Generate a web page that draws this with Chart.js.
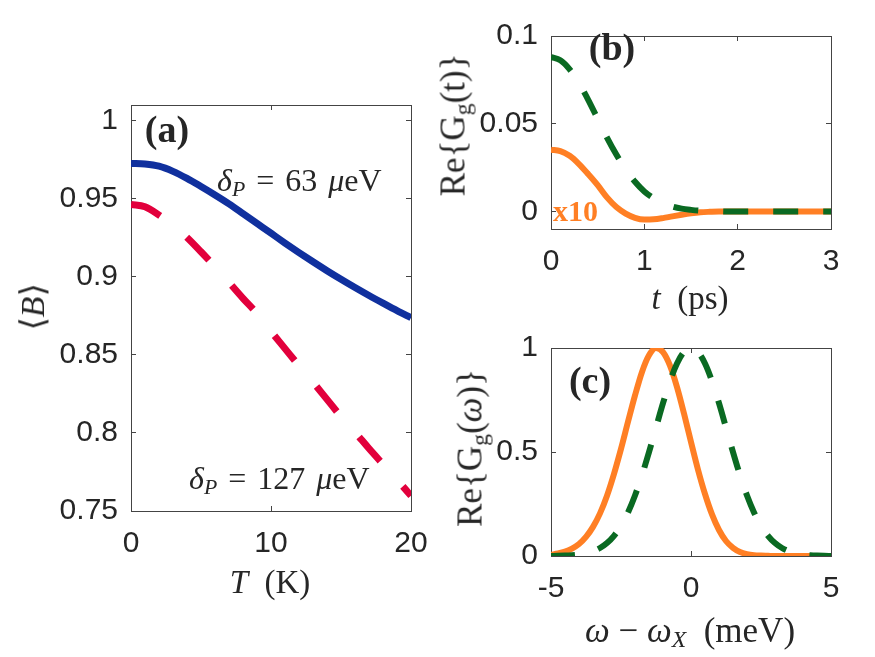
<!DOCTYPE html>
<html>
<head>
<meta charset="utf-8">
<script src="https://cdn.jsdelivr.net/npm/chart.js@4.4.1/dist/chart.umd.min.js"></script>
<style>
  body { margin: 0; background: #fff; }
  #wrap { position: relative; width: 875px; height: 657px; background: #fff; overflow: hidden; }
  #wrap canvas { position: absolute; left: 0; top: 0; }
  .t { position: absolute; font-family: "Liberation Serif", "Times New Roman", serif; color: #262626;
       white-space: nowrap; line-height: 1; transform: translate(-50%, -50%); }
  .l { transform: translate(0, -50%); }
  .rot { transform: translate(-50%, -50%) rotate(-90deg); }
  .bold { font-weight: bold; }
  .ann { word-spacing: 3px; }
  i { font-style: italic; }
  sub { font-size: 68%; vertical-align: -0.25em; line-height: 0; }
</style>
</head>
<body>
<div id="wrap">
  <canvas id="chartA" width="875" height="657"></canvas>
  <canvas id="chartB" width="875" height="657"></canvas>
  <canvas id="chartC" width="875" height="657"></canvas>

  <div class="t rot" style="left:33px; top:307px; font-size:34px;">⟨<i>B</i>⟩</div>
  <div class="t" style="left:270px; top:582px; font-size:33px;"><i>T</i>&nbsp;&nbsp;(K)</div>
  <div class="t bold" style="left:167px; top:129px; font-size:38px;">(a)</div>
  <div class="t l ann" style="left:217px; top:180px; font-size:32px;"><i>δ</i><sub><i>P</i></sub> = 63 <i>μ</i>eV</div>
  <div class="t l ann" style="left:189px; top:478px; font-size:32px;"><i>δ</i><sub><i>P</i></sub> = 127 <i>μ</i>eV</div>

  <div class="t bold" style="left:612px; top:47px; font-size:38px;">(b)</div>
  <div class="t rot" style="left:453px; top:125px; font-size:35px;">Re{G<sub>g</sub>(t)}</div>
  <div class="t" style="left:690px; top:298px; font-size:33px;"><i>t</i>&nbsp;&nbsp;(ps)</div>
  <div class="t l bold" style="left:553px; top:211px; font-size:30px; color:#ff7f24;">x10</div>

  <div class="t bold" style="left:590px; top:380px; font-size:38px;">(c)</div>
  <div class="t rot" style="left:470px; top:448px; font-size:35px;">Re{G<sub>g</sub>(<i>ω</i>)}</div>
  <div class="t" style="left:690px; top:630px; font-size:35px;"><i>ω</i> − <i>ω</i><sub><i>X</i></sub>&nbsp;&nbsp;(meV)</div>
</div>

<script>
// panel (a): <B> against temperature
const tempK = [0, 1, 2, 3, 4, 5, 6, 7, 8, 9, 10, 11, 12, 13, 14, 15, 16, 17, 18, 19, 20];
const bDelta63 = [0.9726, 0.9722, 0.9708, 0.9675, 0.9630, 0.9578, 0.9524, 0.9467, 0.9405, 0.9342, 0.9279,
                  0.9216, 0.9155, 0.9096, 0.9039, 0.8984, 0.8931, 0.8880, 0.8831, 0.8783, 0.8738];
const bDelta127 = [0.9463, 0.9448, 0.9395, 0.9330, 0.9252, 0.9160, 0.9064, 0.8964, 0.8862, 0.8765, 0.8650,
                   0.8540, 0.8430, 0.8325, 0.8215, 0.8105, 0.8005, 0.7900, 0.7800, 0.7700, 0.7598];
const aXTicks = [0, 10, 20];
const aXLabels = ['0', '10', '20'];
const aYTicks = [0.75, 0.8, 0.85, 0.9, 0.95, 1];
const aYLabels = ['0.75', '0.8', '0.85', '0.9', '0.95', '1'];

// panel (b): Re{Gg(t)}
const timePs = [0, 0.1, 0.2, 0.3, 0.4, 0.5, 0.6, 0.7, 0.8, 0.9, 1.0, 1.1, 1.2, 1.3, 1.4, 1.5,
                1.6, 1.7, 1.8, 1.9, 2.0, 2.1, 2.2, 2.3, 2.4, 2.5, 2.6, 2.7, 2.8, 2.9, 3.0];
const gtGreen = [0.0880, 0.0862, 0.0810, 0.0731, 0.0635, 0.0528, 0.0421, 0.0324, 0.0239, 0.0169, 0.0114,
                 0.0075, 0.0047, 0.0028, 0.0016, 0.0009, 0.0004, 0.0002, 0.0001, 0, 0,
                 0, 0, 0, 0, 0, 0, 0, 0, 0, 0];
const gtOrange = [0.0352, 0.0344, 0.0317, 0.0270, 0.0212, 0.0150, 0.0080, 0.0025, -0.0012, -0.0036, -0.0046,
                  -0.0045, -0.0038, -0.0028, -0.0019, -0.0011, -0.0005, -0.0002, 0, 0, 0,
                  0, 0, 0, 0, 0, 0, 0, 0, 0, 0];
const bXTicks = [0, 1, 2, 3];
const bXLabels = ['0', '1', '2', '3'];
const bYTicks = [0, 0.05, 0.1];
const bYLabels = ['0', '0.05', '0.1'];

// panel (c): Re{Gg(w)}
const omegaMeV = [-5, -4.75, -4.5, -4.25, -4, -3.75, -3.5, -3.25, -3, -2.75, -2.5, -2.25, -2, -1.75, -1.5, -1.25,
                  -1, -0.75, -0.5, -0.25, 0, 0.25, 0.5, 0.75, 1, 1.25, 1.5, 1.75, 2, 2.25, 2.5, 2.75,
                  3, 3.25, 3.5, 3.75, 4, 4.25, 4.5, 4.75, 5];
const gwOrange = [0.006, 0.012, 0.021, 0.036, 0.058, 0.092, 0.140, 0.205, 0.290, 0.395, 0.515, 0.645, 0.772, 0.885, 0.965, 1.000,
                  0.980, 0.915, 0.812, 0.685, 0.548, 0.415, 0.298, 0.200, 0.125, 0.072, 0.039, 0.019, 0.009, 0.004, 0.002, 0.001,
                  0, 0, 0, 0, 0, 0, 0, 0, 0];
const gwGreen = [0.0004, 0.0009, 0.0019, 0.0038, 0.0072, 0.013, 0.0228, 0.0384, 0.0622, 0.0969, 0.1453, 0.2096, 0.291, 0.3886, 0.4994, 0.6174,
                 0.7345, 0.8406, 0.9257, 0.981, 1, 0.981, 0.9257, 0.8406, 0.7345, 0.6174, 0.4994, 0.3886, 0.291, 0.2096, 0.1453, 0.0969,
                 0.0622, 0.0384, 0.0228, 0.013, 0.0072, 0.0038, 0.0019, 0.0009, 0.0004];
const cXTicks = [-5, 0, 5];
const cXLabels = ['-5', '0', '5'];
const cYTicks = [0, 0.5, 1];
const cYLabels = ['0', '0.5', '1'];

const axisColor = '#444444';
const labelColor = '#262626';
const tickFont = { family: '"Liberation Sans", Arial, sans-serif', size: 30 };

function pts (xs, ys) {
    return xs.map((x, i) => ({ x: x, y: ys[i] }));
}

function oneAxis (pos, min, max, ticks, labels, size, showLabels) {
    const horiz = pos === 'top' || pos === 'bottom';
    return {
        type: 'linear',
        position: pos,
        min: min,
        max: max,
        afterBuildTicks: s => { s.ticks = ticks.map(v => ({ value: v })); },
        afterFit: s => { if (horiz) { s.height = size; } else { s.width = size; } },
        ticks: {
            display: showLabels,
            font: tickFont,
            color: labelColor,
            padding: horiz ? 20 : 18,
            maxRotation: 0,
            autoSkip: false,
            callback: (v, i) => labels[i]
        },
        grid: { drawOnChartArea: false, tickLength: -5, color: axisColor, lineWidth: 1 },
        border: { display: true, color: axisColor, width: 1 }
    };
}

// area = [left, top, right, bottom] of the plotting box in page pixels
function makePanel (id, area, xr, xt, xl, yr, yt, yl, datasets) {
    const W = 875, H = 657, yW = 120, xH = 90;
    return new Chart(document.getElementById(id), {
        type: 'line',
        data: { datasets: datasets },
        options: {
            responsive: false,
            animation: false,
            devicePixelRatio: 1,
            layout: { padding: { left: area[0] - yW, top: area[1], right: W - area[2], bottom: H - area[3] - xH } },
            plugins: { legend: { display: false }, tooltip: { enabled: false } },
            elements: { point: { radius: 0 } },
            scales: {
                x: oneAxis('bottom', xr[0], xr[1], xt, xl, xH, true),
                x2: oneAxis('top', xr[0], xr[1], xt, xl, 0, false),
                y: oneAxis('left', yr[0], yr[1], yt, yl, yW, true),
                y2: oneAxis('right', yr[0], yr[1], yt, yl, 0, false)
            }
        }
    });
}

function line (data, color, width, dash) {
    return {
        data: data,
        borderColor: color,
        borderWidth: width,
        borderDash: dash || [],
        borderCapStyle: 'butt',
        cubicInterpolationMode: 'monotone',
        fill: false,
        xAxisID: 'x',
        yAxisID: 'y'
    };
}

const blue = '#10309e', red = '#e2003c', green = '#0a6a22', orange = '#ff7f24';

makePanel('chartA', [131, 105, 411, 511], [0, 20], aXTicks, aXLabels, [0.75, 1.01], aYTicks, aYLabels, [
    line(pts(tempK, bDelta63), blue, 7),
    line(pts(tempK, bDelta127), red, 7, [32, 34])
]);

makePanel('chartB', [551, 19, 831, 229], [0, 3], bXTicks, bXLabels, [-0.01, 0.1], bYTicks, bYLabels, [
    line(pts(timePs, gtGreen), green, 6, [25, 25]),
    line(pts(timePs, gtOrange), orange, 6)
]);

makePanel('chartC', [551, 348, 831, 556], [-5, 5], cXTicks, cXLabels, [0, 1], cYTicks, cYLabels, [
    line(pts(omegaMeV, gwGreen), green, 6, [24, 24]),
    line(pts(omegaMeV, gwOrange), orange, 6)
]);
</script>
</body>
</html>
